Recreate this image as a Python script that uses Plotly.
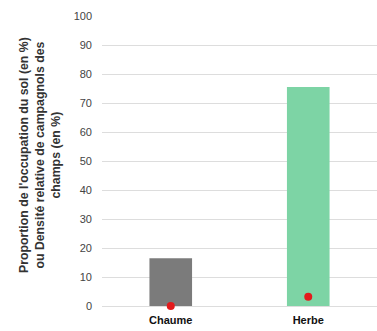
import plotly.graph_objects as go

categories = ["Chaume", "Herbe"]
occupation = [16.5, 75.5]
densite = [0, 3.2]
bar_colors = ["#7b7b7b", "#7dd4a5"]
y_title = "<b>Proportion de l'occupation du sol (en %)<br>ou Densité relative de campagnols des<br>champs (en %)</b>"

fig = go.Figure()
fig.add_trace(go.Bar(x=categories, y=occupation, marker=dict(color=bar_colors, line=dict(width=0)),
                     width=0.31, showlegend=False))
fig.add_trace(go.Scatter(x=categories, y=densite, mode="markers",
                         marker=dict(color="#e31a1c", size=8), showlegend=False, cliponaxis=False))

fig.add_annotation(text=y_title, textangle=-90, xref="paper", yref="paper",
                   x=-0.226, y=0.52, xanchor="center", yanchor="middle", showarrow=False,
                   font=dict(size=12.3, color="#333"), align="center")

fig.update_layout(
    width=377, height=331,
    margin=dict(l=102, r=0, t=16, b=25),
    plot_bgcolor="white", paper_bgcolor="white",
    font=dict(family="Liberation Sans, Arial, sans-serif", color="#333"),
    xaxis=dict(range=[-0.5, 1.5], showgrid=False, showline=False, ticks="", automargin=False,
               tickfont=dict(size=11, color="#111", family="Liberation Sans, Arial, sans-serif"),
               tickprefix="<b>", ticksuffix="</b>", ticklabelstandoff=6),
    yaxis=dict(range=[0, 100], dtick=10, showgrid=True, gridcolor="#dddddd", gridwidth=1,
               zeroline=True, zerolinecolor="#dddddd", zerolinewidth=1, automargin=False,
               tickfont=dict(size=11, color="#444"), ticklabelstandoff=9),
)
fig.write_html("out.html", config={"displayModeBar": False},
               post_script="document.body.style.margin='0';document.body.style.overflow='hidden';")
